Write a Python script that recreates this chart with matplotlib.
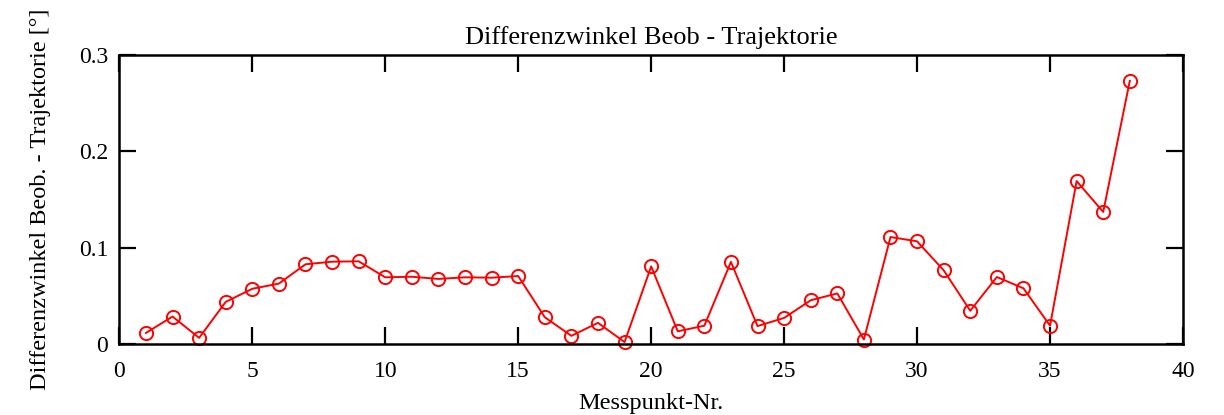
import numpy as np
import matplotlib
matplotlib.use("Agg")
import matplotlib.pyplot as plt

plt.rcParams['font.family'] = ['Liberation Serif', 'DejaVu Serif']

# measurement point numbers and angle difference values (deg)
messpunkt = np.arange(1, 39)
diff_winkel = [0.0115, 0.0285, 0.0064, 0.0437, 0.0573, 0.0627, 0.0827, 0.0854, 0.0858, 0.0692,
               0.0698, 0.0675, 0.0692, 0.0688, 0.0705, 0.0278, 0.0085, 0.0220, 0.0020, 0.0805,
               0.0132, 0.0190, 0.0852, 0.0186, 0.0271, 0.0454, 0.0525, 0.0047, 0.1110, 0.1065,
               0.0765, 0.0345, 0.0695, 0.0578, 0.0190, 0.1690, 0.1370, 0.2730]

x_ticks = [0, 5, 10, 15, 20, 25, 30, 35, 40]
y_ticks = [0, 0.1, 0.2, 0.3]
y_labels = ['0', '0.1', '0.2', '0.3']

fig = plt.figure(figsize=(12.24, 4.15), dpi=100)
ax = fig.add_axes([0.0975, 0.171, 0.869, 0.697])

ax.plot(messpunkt, diff_winkel, color='red', linestyle='-', linewidth=1.4,
        marker='o', markersize=9.5, markerfacecolor='none', markeredgecolor='red',
        markeredgewidth=1.4, clip_on=False)

ax.set_xlim(0, 40)
ax.set_ylim(0, 0.3)
ax.set_xticks(x_ticks)
ax.set_yticks(y_ticks)
ax.set_yticklabels(y_labels)
ax.tick_params(direction='in', length=12, width=1.6, top=True, right=True,
               labelsize=17)
ax.tick_params(axis='x', pad=12)
ax.tick_params(axis='y', pad=8)
for s in ax.spines.values():
    s.set_linewidth(1.8)

ax.set_title('Differenzwinkel Beob - Trajektorie', fontsize=19, pad=8)
ax.set_xlabel('Messpunkt-Nr.', fontsize=17.5, labelpad=8)
ax.set_ylabel('Differenzwinkel Beob. - Trajektorie [°]', fontsize=17.5, labelpad=20)

fig.savefig('out.png', dpi=100)
